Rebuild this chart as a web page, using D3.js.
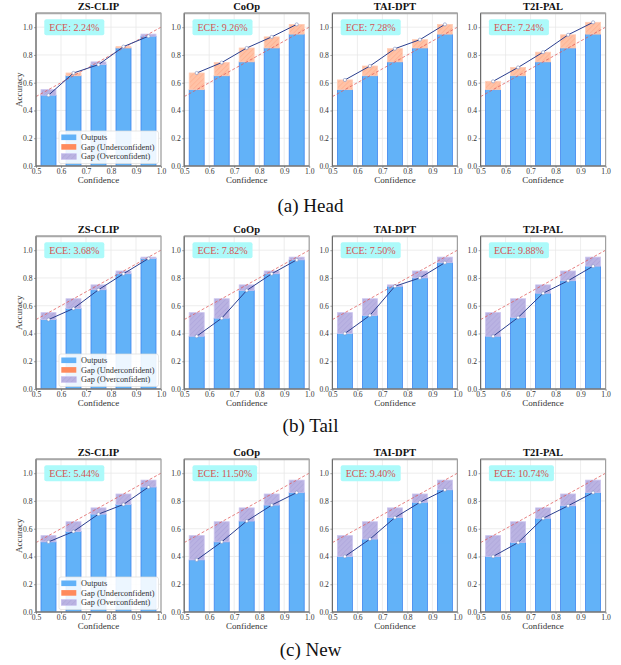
<!DOCTYPE html>
<html>
<head>
<meta charset="utf-8">
<script src="https://cdn.jsdelivr.net/npm/d3@7"></script>
<style>
  html, body { margin: 0; padding: 0; background: #fff; }
  svg { display: block; font-family: "Liberation Serif", "Times New Roman", serif; }
</style>
</head>
<body>
<svg id="chart" width="621" height="665"></svg>
<script>
// Reliability diagrams: one row per class split, one column per method.
const methods = ["ZS-CLIP", "CoOp", "TAI-DPT", "T2I-PAL"];
const splits = ["(a) Head", "(b) Tail", "(c) New"];
const binConfidence = [0.55, 0.65, 0.75, 0.85, 0.95];

// Per-bin accuracy, one list per method
const headAccuracy = [
  [0.51, 0.67, 0.73, 0.86, 0.935],
  [0.67, 0.745, 0.85, 0.93, 1.02],
  [0.62, 0.72, 0.845, 0.91, 1.02],
  [0.61, 0.71, 0.82, 0.945, 1.035]
];
const tailAccuracy = [
  [0.50, 0.58, 0.715, 0.83, 0.94],
  [0.38, 0.51, 0.71, 0.83, 0.93],
  [0.40, 0.53, 0.74, 0.80, 0.91],
  [0.38, 0.515, 0.69, 0.78, 0.885]
];
const newAccuracy = [
  [0.505, 0.58, 0.705, 0.775, 0.90],
  [0.375, 0.505, 0.655, 0.77, 0.86],
  [0.40, 0.525, 0.68, 0.79, 0.88],
  [0.40, 0.50, 0.675, 0.765, 0.86]
];

const headECE = ["2.24%", "9.26%", "7.28%", "7.24%"];
const tailECE = ["3.68%", "7.82%", "7.50%", "9.88%"];
const newECE = ["5.44%", "11.50%", "9.40%", "10.74%"];

const xTicks = [0.5, 0.6, 0.7, 0.8, 0.9, 1.0];
const yTicks = [0.0, 0.2, 0.4, 0.6, 0.8, 1.0];
const legendLabels = ["Outputs", "Gap (Underconfident)", "Gap (Overconfident)"];

const rows = [
  { acc: headAccuracy, ece: headECE },
  { acc: tailAccuracy, ece: tailECE },
  { acc: newAccuracy, ece: newECE }
];

// Layout
const panelLeft = [36, 184.2, 332.4, 480.6];
const rowTop = [13.3, 236.3, 459.3];
const captionBaseline = [212, 432, 656];
const plotW = 125, plotH = 152.7;
const binHalfWidth = 0.03;

const colors = {
  bar: "#62b2f8",
  barEdge: "#3f86ee",
  under: "#ffc2a6",
  underHatch: "#ffa47e",
  over: "#bab3e2",
  overHatch: "#a69cd9",
  line: "#2b3f8f",
  diag: "#e05a5a",
  grid: "#e8e8e8",
  eceBox: "#acfafa",
  eceText: "#d65252"
};

const svg = d3.select("#chart");
const defs = svg.append("defs");

function hatch(id, bg, fg) {
  const p = defs.append("pattern")
    .attr("id", id)
    .attr("patternUnits", "userSpaceOnUse")
    .attr("width", 3.5).attr("height", 3.5)
    .attr("patternTransform", "rotate(45)");
  p.append("rect").attr("width", 3.5).attr("height", 3.5).attr("fill", bg);
  p.append("line").attr("x1", 0).attr("y1", 0).attr("x2", 0).attr("y2", 3.5)
    .attr("stroke", fg).attr("stroke-width", 0.8);
}
hatch("hatch-under", colors.under, colors.underHatch);
hatch("hatch-over", colors.over, colors.overHatch);

const x = d3.scaleLinear().domain([0.5, 1.0]).range([0, plotW]);
const y = d3.scaleLinear().domain([0, 1.1]).range([plotH, 0]);

rows.forEach((row, r) => {
  methods.forEach((method, c) => {
    const g = svg.append("g")
      .attr("transform", `translate(${panelLeft[c]},${rowTop[r]})`);
    const clipId = `clip-${r}-${c}`;
    defs.append("clipPath").attr("id", clipId)
      .append("rect").attr("width", plotW).attr("height", plotH);

    // grid
    g.append("g").selectAll("line.gx").data(xTicks).join("line")
      .attr("x1", d => x(d)).attr("x2", d => x(d))
      .attr("y1", 0).attr("y2", plotH)
      .attr("stroke", colors.grid).attr("stroke-width", 0.8);
    g.append("g").selectAll("line.gy").data(yTicks).join("line")
      .attr("x1", 0).attr("x2", plotW)
      .attr("y1", d => y(d)).attr("y2", d => y(d))
      .attr("stroke", colors.grid).attr("stroke-width", 0.8);

    const acc = row.acc[c];
    const bins = binConfidence.map((conf, i) => ({ conf, acc: acc[i] }));
    const plot = g.append("g").attr("clip-path", `url(#${clipId})`);

    // output bars
    plot.append("g").selectAll("rect").data(bins).join("rect")
      .attr("x", d => x(d.conf - binHalfWidth))
      .attr("width", d => x(d.conf + binHalfWidth) - x(d.conf - binHalfWidth))
      .attr("y", d => y(Math.min(d.acc, d.conf)))
      .attr("height", d => y(0) - y(Math.min(d.acc, d.conf)))
      .attr("fill", colors.bar)
      .attr("stroke", colors.barEdge).attr("stroke-width", 0.8);

    // gap bars
    plot.append("g").selectAll("rect").data(bins).join("rect")
      .attr("x", d => x(d.conf - binHalfWidth))
      .attr("width", d => x(d.conf + binHalfWidth) - x(d.conf - binHalfWidth))
      .attr("y", d => y(Math.max(d.acc, d.conf)))
      .attr("height", d => Math.abs(y(d.acc) - y(d.conf)))
      .attr("fill", d => d.acc > d.conf ? "url(#hatch-under)" : "url(#hatch-over)")
      .attr("stroke", d => d.acc > d.conf ? "#ffcdb6" : "#cbc4ee")
      .attr("stroke-width", 0.8);

    // perfect calibration diagonal
    plot.append("line")
      .attr("x1", x(0.5)).attr("y1", y(0.5))
      .attr("x2", x(1.0)).attr("y2", y(1.0))
      .attr("stroke", colors.diag).attr("stroke-width", 0.9)
      .attr("stroke-dasharray", "3,2").attr("opacity", 0.85);

    // accuracy curve
    plot.append("path").datum(bins)
      .attr("d", d3.line().x(d => x(d.conf)).y(d => y(d.acc)))
      .attr("fill", "none").attr("stroke", colors.line).attr("stroke-width", 1);
    plot.append("g").selectAll("circle").data(bins).join("circle")
      .attr("cx", d => x(d.conf)).attr("cy", d => y(d.acc)).attr("r", 1.6)
      .attr("fill", "#fff").attr("stroke", "#7f8fc0").attr("stroke-width", 0.6);

    // frame
    g.append("rect").attr("width", plotW).attr("height", plotH)
      .attr("fill", "none").attr("stroke", "#a0a0a0").attr("stroke-width", 1.2);
    g.append("line").attr("x1", 0).attr("x2", plotW).attr("y1", 0).attr("y2", 0)
      .attr("stroke", "#a8a8a8").attr("stroke-width", 2);
    g.append("line").attr("x1", 0).attr("x2", 0).attr("y1", 0).attr("y2", plotH)
      .attr("stroke", "#666").attr("stroke-width", 1);
    g.append("line").attr("x1", 0).attr("x2", plotW).attr("y1", plotH).attr("y2", plotH)
      .attr("stroke", "#666").attr("stroke-width", 1);

    // axes
    const xAxis = d3.axisBottom(x).tickValues(xTicks).tickFormat(d3.format(".1f"))
      .tickSize(2).tickPadding(0.5);
    const yAxis = d3.axisLeft(y).tickValues(yTicks).tickFormat(d3.format(".1f"))
      .tickSize(2).tickPadding(1.5);
    const xa = g.append("g").attr("transform", `translate(0,${plotH})`).call(xAxis);
    const ya = g.append("g").call(yAxis);
    [xa, ya].forEach(a => {
      a.select(".domain").remove();
      a.selectAll("line").attr("stroke", "#666").attr("stroke-width", 0.6);
      a.selectAll("text").attr("font-family", "Liberation Serif, serif")
        .attr("font-size", 7.6).attr("fill", "#333");
    });

    // labels
    g.append("text").attr("x", plotW / 2).attr("y", -3.6)
      .attr("text-anchor", "middle").attr("font-size", 10.5)
      .attr("font-weight", "bold").attr("fill", "#111").text(method);
    g.append("text").attr("x", plotW / 2).attr("y", plotH + 17.5)
      .attr("text-anchor", "middle").attr("font-size", 9)
      .attr("fill", "#333").text("Confidence");
    if (c === 0) {
      g.append("text")
        .attr("transform", `translate(-14.5,${plotH / 2}) rotate(-90)`)
        .attr("text-anchor", "middle").attr("font-size", 9)
        .attr("fill", "#333").text("Accuracy");
    }

    // ECE badge
    const badge = g.append("g").attr("transform", "translate(8.3,6)");
    const box = badge.append("rect").attr("height", 16).attr("rx", 2)
      .attr("fill", colors.eceBox);
    const t = badge.append("text").attr("x", 5).attr("y", 11.6)
      .attr("font-size", 10).attr("fill", colors.eceText)
      .text(`ECE: ${row.ece[c]}`);
    box.attr("width", t.node().getComputedTextLength() + 10);

    // legend in first column
    if (c === 0) {
      const lg = g.append("g").attr("transform", `translate(23,${plotH - 35})`);
      lg.append("rect").attr("width", 99.5).attr("height", 32.5).attr("rx", 2)
        .attr("fill", "#fff").attr("fill-opacity", 0.88)
        .attr("stroke", "#dcdcdc").attr("stroke-width", 0.7);
      const swatches = [colors.bar, "#ff8a5c", "url(#hatch-over)"];
      legendLabels.forEach((lab, i) => {
        const yy = 6.3 + i * 9.6;
        lg.append("rect").attr("x", 2.3).attr("y", yy - 2.8)
          .attr("width", 15).attr("height", 5.6)
          .attr("fill", swatches[i])
          .attr("stroke", i === 2 ? "#c6bdee" : "none").attr("stroke-width", 0.6);
        lg.append("text").attr("x", 22).attr("y", yy + 2.9)
          .attr("font-size", 8.3).attr("fill", "#333").text(lab);
      });
    }
  });

  svg.append("text").attr("x", 310.5).attr("y", captionBaseline[r])
    .attr("text-anchor", "middle").attr("font-size", 19)
    .attr("fill", "#111").text(splits[r]);
});
</script>
</body>
</html>
